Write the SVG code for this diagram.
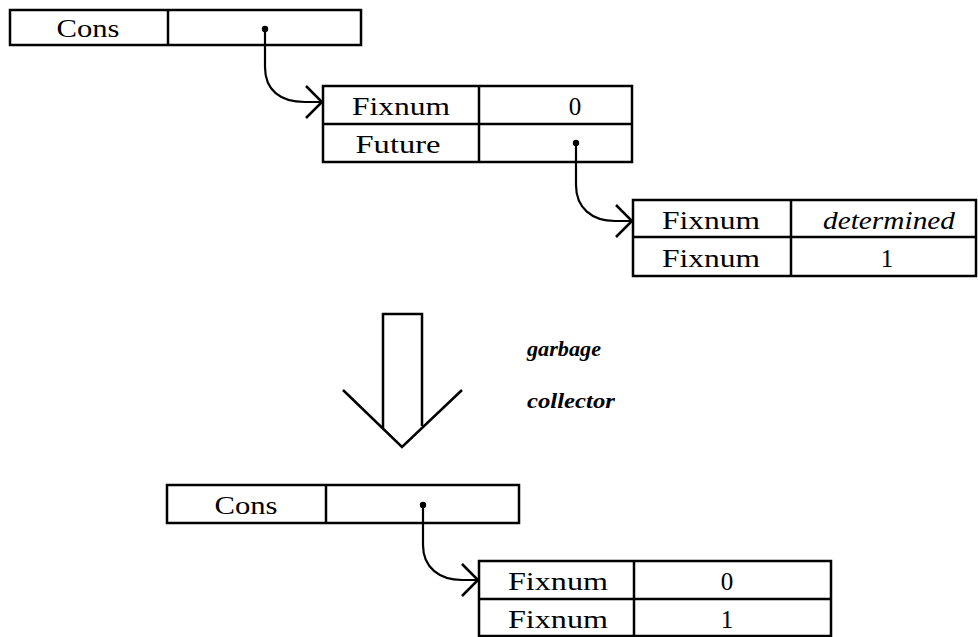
<svg xmlns="http://www.w3.org/2000/svg" width="978" height="637" viewBox="0 0 978 637">
<style>
.box{fill:#fff;stroke:#000;stroke-width:2.5}
.ln{stroke:#000;stroke-width:2.5;fill:none}
.t{font-family:"Liberation Serif","DejaVu Serif",serif;font-size:25px;fill:#000;text-anchor:middle}
.i{font-style:italic}
.lab{font-family:"Liberation Serif","DejaVu Serif",serif;font-size:22px;font-style:italic;font-weight:bold;fill:#000}
.conn{stroke:#000;stroke-width:2.2;fill:none}
</style>
<defs>
<marker id="chev" markerUnits="userSpaceOnUse" markerWidth="40" markerHeight="40" viewBox="-20 -20 40 40" refX="0" refY="0" orient="auto">
<path d="M-16,-16 L0,0 L-16,16" fill="none" stroke="#000" stroke-width="2.5"/>
</marker>
</defs>
<g id="cons1">
<rect class="box" x="10" y="10" width="351" height="35"/>
<line class="ln" x1="168" y1="10" x2="168" y2="45"/>
<text class="t" x="88" y="37" textLength="63" lengthAdjust="spacingAndGlyphs">Cons</text>
<circle cx="265" cy="29" r="3.2"/>
</g>
<g id="future-obj">
<rect class="box" x="323" y="86" width="309" height="76"/>
<line class="ln" x1="323" y1="124" x2="632" y2="124"/>
<line class="ln" x1="479" y1="86" x2="479" y2="162"/>
<text class="t" x="401" y="115" textLength="98" lengthAdjust="spacingAndGlyphs">Fixnum</text>
<text class="t" x="575" y="115">0</text>
<text class="t" x="398" y="153" textLength="85" lengthAdjust="spacingAndGlyphs">Future</text>
<circle cx="576" cy="143" r="3.2"/>
</g>
<g id="value-obj">
<rect class="box" x="633" y="200" width="343" height="76"/>
<line class="ln" x1="633" y1="237" x2="976" y2="237"/>
<line class="ln" x1="791" y1="200" x2="791" y2="276"/>
<text class="t" x="711" y="229" textLength="98" lengthAdjust="spacingAndGlyphs">Fixnum</text>
<text class="t i" x="889" y="229" textLength="132" lengthAdjust="spacingAndGlyphs">determined</text>
<text class="t" x="711" y="267" textLength="98" lengthAdjust="spacingAndGlyphs">Fixnum</text>
<text class="t" x="887" y="267">1</text>
</g>
<g id="gc-arrow">
<path class="ln" d="M383,428 V314 H422 V426"/>
<path class="ln" d="M343,390 L402,447 L462,390"/>
<text class="lab" x="527" y="356" textLength="74" lengthAdjust="spacingAndGlyphs">garbage</text>
<text class="lab" x="527" y="408" textLength="88" lengthAdjust="spacingAndGlyphs">collector</text>
</g>
<g id="cons2">
<rect class="box" x="167" y="485" width="352" height="38"/>
<line class="ln" x1="326" y1="485" x2="326" y2="523"/>
<text class="t" x="246" y="514" textLength="63" lengthAdjust="spacingAndGlyphs">Cons</text>
<circle cx="423" cy="505" r="3.2"/>
</g>
<g id="fix-obj">
<rect class="box" x="479" y="561" width="352" height="75"/>
<line class="ln" x1="479" y1="599" x2="831" y2="599"/>
<line class="ln" x1="634" y1="561" x2="634" y2="636"/>
<text class="t" x="558" y="590" textLength="100" lengthAdjust="spacingAndGlyphs">Fixnum</text>
<text class="t" x="727" y="590">0</text>
<text class="t" x="558" y="628" textLength="100" lengthAdjust="spacingAndGlyphs">Fixnum</text>
<text class="t" x="727" y="628">1</text>
</g>
<g id="connectors">
<path class="conn" d="M265,29 V67 C265,90 280,102 305,102 H322" marker-end="url(#chev)"/>
<path class="conn" d="M576,143 V185 C576,208 592,221 615,221 H632" marker-end="url(#chev)"/>
<path class="conn" d="M423,505 V545 C423,568 440,580 462,580 H478" marker-end="url(#chev)"/>
</g>
</svg>
